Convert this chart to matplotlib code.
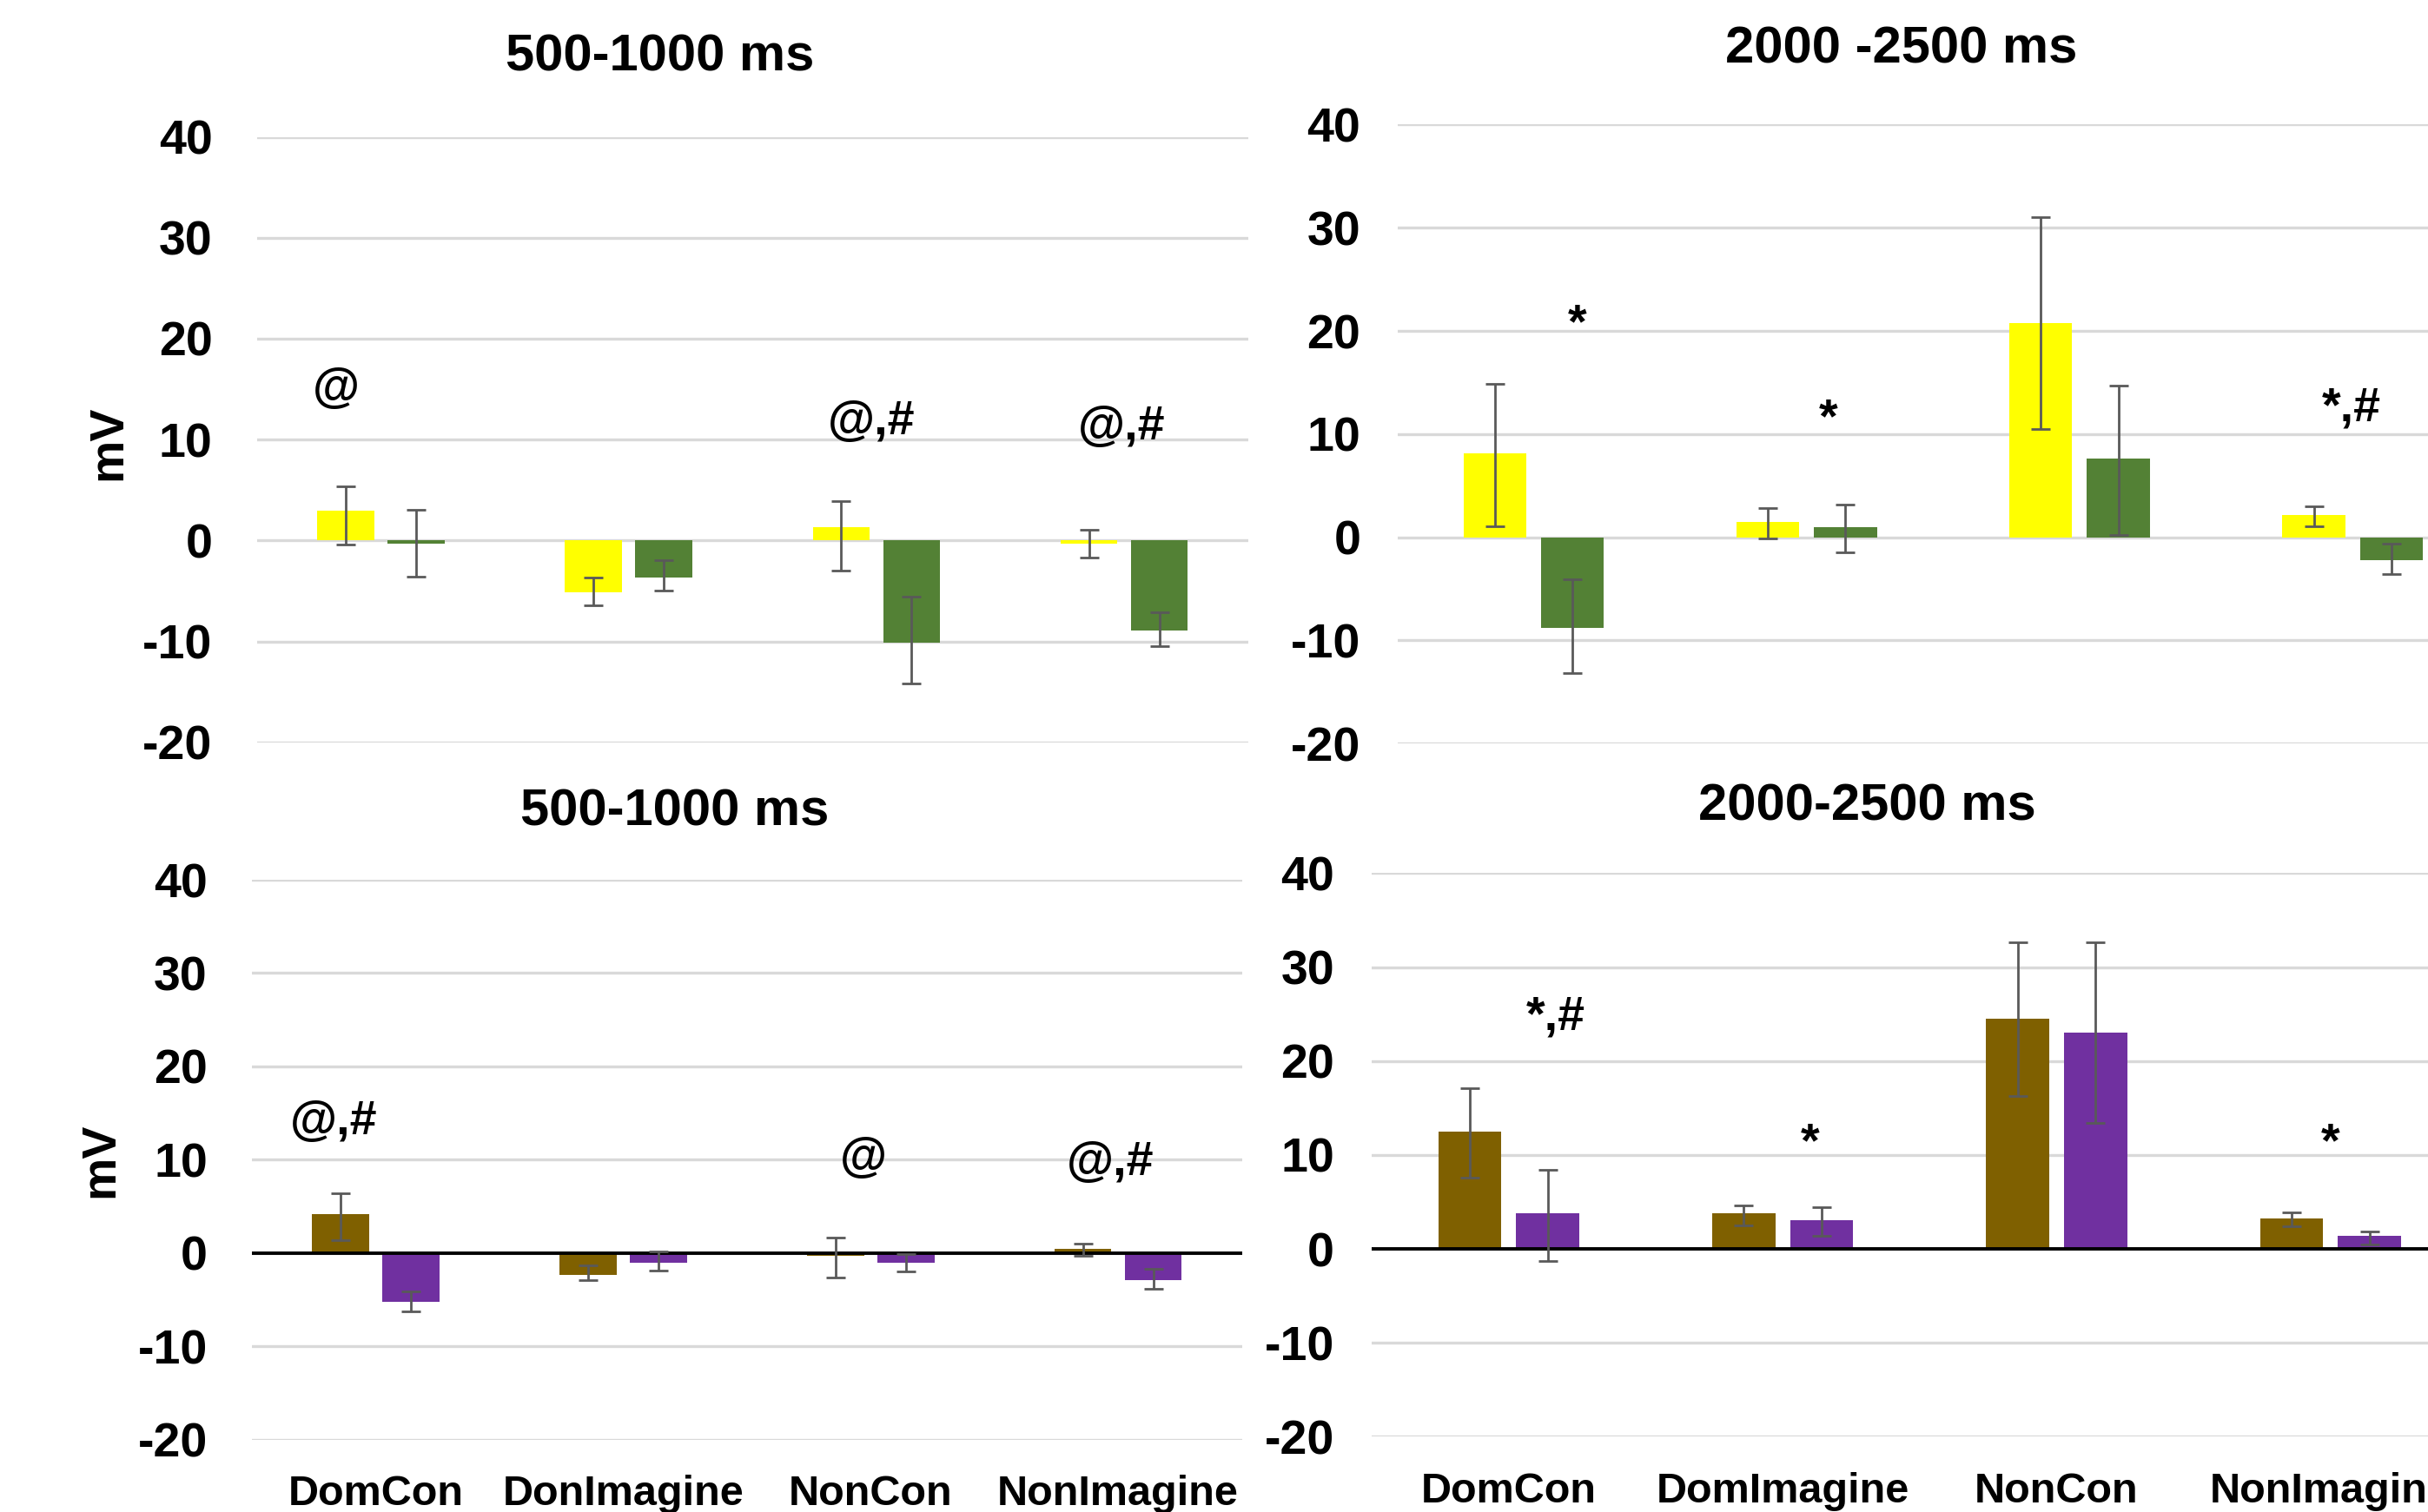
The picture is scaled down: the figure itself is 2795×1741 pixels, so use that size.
import matplotlib
matplotlib.use("Agg")
import matplotlib.pyplot as plt
import numpy as np
from matplotlib import font_manager

# ---------------- data ----------------
categories_bottom_left = ["DomCon", "DonImagine", "NonCon", "NonImagine"]
categories_bottom_right = ["DomCon", "DomImagine", "NonCon", "NonImagine"]
yticks = [-20, -10, 0, 10, 20, 30, 40]

# top-left: 500-1000 ms (yellow / green)
tl_yellow = [3.0, -5.1, 1.3, -0.3]
tl_yellow_lo = [3.4, 1.36, 4.3, 1.38]
tl_yellow_hi = [2.4, 1.4, 2.6, 1.34]
tl_green = [-0.3, -3.7, -10.1, -8.9]
tl_green_lo = [3.3, 1.23, 4.1, 1.6]
tl_green_hi = [3.36, 1.73, 4.53, 1.75]
tl_notes = ["@", "", "@,#", "@,#"]
tl_note_dx = [-0.18, 0, -0.02, -0.01]
tl_note_y = [15.0, 0, 11.7, 11.2]

# top-right: 2000-2500 ms (yellow / green)
tr_yellow = [8.1, 1.45, 20.8, 2.13]
tr_yellow_lo = [7.04, 1.6, 10.3, 1.07]
tr_yellow_hi = [6.8, 1.4, 10.2, 0.91]
tr_green = [-8.8, 0.97, 7.6, -2.2]
tr_green_lo = [4.4, 2.42, 7.4, 1.33]
tr_green_hi = [4.7, 2.22, 7.1, 1.57]
tr_notes = ["*", "*", "", "*,#"]
tr_note_dx = [0.16, 0.08, 0, -0.005]
tr_note_y = [20.6, 11.4, 0, 12.5]

# bottom-left: 500-1000 ms (brown / purple)
bl_brown = [4.14, -2.35, -0.3, 0.46]
bl_brown_lo = [2.76, 0.56, 2.3, 0.72]
bl_brown_hi = [2.3, 1.02, 1.99, 0.56]
bl_purple = [-5.26, -1.07, -1.07, -2.91]
bl_purple_lo = [1.03, 0.82, 0.93, 0.97]
bl_purple_hi = [1.12, 1.27, 0.97, 1.17]
bl_notes = ["@,#", "", "@", "@,#"]
bl_note_dx = [-0.17, 0, -0.03, -0.03]
bl_note_y = [14.0, 0, 10.1, 9.7]

# bottom-right: 2000-2500 ms (brown / purple)
br_brown = [12.49, 3.76, 24.47, 3.25]
br_brown_lo = [4.93, 1.27, 8.17, 0.86]
br_brown_hi = [4.61, 0.86, 8.13, 0.61]
br_purple = [3.76, 3.05, 23.05, 1.42]
br_purple_lo = [5.08, 1.68, 9.6, 0.96]
br_purple_hi = [4.62, 1.37, 9.55, 0.46]
br_notes = ["*,#", "*", "", "*"]
br_note_dx = [0.17, 0.1, 0, 0.0]
br_note_y = [24.6, 11.2, 0, 11.2]

titles = ["500-1000 ms", "2000 -2500 ms", "500-1000 ms", "2000-2500 ms"]

# ---------------- style ----------------
YELLOW = "#FFFF00"
GREEN = "#538135"
BROWN = "#7F6000"
PURPLE = "#7030A0"
GRID = "#D9D9D9"
ERR = "#595959"

names = {f.name for f in font_manager.fontManager.ttflist}
FONT = ["Liberation Sans", "DejaVu Sans"]
NARROW = ["Liberation Sans Narrow", "Liberation Sans", "DejaVu Sans"] if "Liberation Sans Narrow" in names else FONT
plt.rcParams["font.family"] = FONT
plt.rcParams["font.weight"] = "bold"
plt.rcParams["axes.unicode_minus"] = False

W, H = 1568.0, 977.0


def rect(l, t, r, b):
    return [l / W, 1 - b / H, (r - l) / W, (b - t) / H]


fig = plt.figure(figsize=(27.95, 17.41), dpi=100)

BW = 0.23
OFF = 0.142


def panel(r, a, a_lo, a_hi, ca, b, b_lo, b_hi, cb, notes, ndx, ny,
          pad, xlabels=None, zero_black=False):
    ax = fig.add_axes(rect(*r))
    x = np.arange(4)
    ax.set_xlim(-0.5, 3.5)
    ax.set_ylim(-20, 40)
    ax.set_yticks(yticks)
    ax.set_yticklabels([str(v) for v in yticks])
    for yv in yticks:
        ax.axhline(yv, color=GRID, lw=2.4, zorder=0)
    if zero_black:
        ax.axhline(0, color="black", lw=2.8, zorder=2)
    ax.bar(x - OFF, a, BW, color=ca, zorder=1)
    ax.bar(x + OFF, b, BW, color=cb, zorder=1)
    ax.errorbar(x - OFF, a, yerr=[a_lo, a_hi], fmt="none", ecolor=ERR,
                elinewidth=2.0, capsize=8, capthick=2.0, zorder=3)
    ax.errorbar(x + OFF, b, yerr=[b_lo, b_hi], fmt="none", ecolor=ERR,
                elinewidth=2.0, capsize=8, capthick=2.0, zorder=3)
    for i, t in enumerate(notes):
        if t:
            ax.text(i + ndx[i], ny[i], t, ha="center", va="center",
                    fontsize=40, fontweight="bold", zorder=4)
    for s in ax.spines.values():
        s.set_visible(False)
    ax.tick_params(axis="y", length=0, pad=pad, labelsize=40)
    if xlabels is not None:
        ax.set_xticks(x)
        ax.set_xticklabels(xlabels, fontsize=35, fontweight="bold",
                           family=NARROW)
        ax.tick_params(axis="x", length=0, pad=29)
    else:
        ax.set_xticks([])
    for lab in ax.get_yticklabels():
        lab.set_fontweight("bold")
    ax.patch.set_alpha(0)
    return ax


panel((166, 88.4, 806, 479.7), tl_yellow, tl_yellow_lo, tl_yellow_hi, YELLOW,
      tl_green, tl_green_lo, tl_green_hi, GREEN, tl_notes, tl_note_dx, tl_note_y,
      pad=37)
panel((902.4, 80.5, 902.4 + 705, 480.5), tr_yellow, tr_yellow_lo, tr_yellow_hi, YELLOW,
      tr_green, tr_green_lo, tr_green_hi, GREEN, tr_notes, tr_note_dx, tr_note_y,
      pad=30.5)
panel((162.8, 568.5, 162.8 + 639.2, 930.2), bl_brown, bl_brown_lo, bl_brown_hi, BROWN,
      bl_purple, bl_purple_lo, bl_purple_hi, PURPLE, bl_notes, bl_note_dx, bl_note_y,
      pad=37, xlabels=categories_bottom_left, zero_black=True)
panel((885.9, 564.2, 885.9 + 707.6, 928.4), br_brown, br_brown_lo, br_brown_hi, BROWN,
      br_purple, br_purple_lo, br_purple_hi, PURPLE, br_notes, br_note_dx, br_note_y,
      pad=31, xlabels=categories_bottom_right, zero_black=True)

# titles
title_pos = [(426, 37), (1228, 32), (436, 524.5), (1206, 521.4)]
for t, (tx, ty) in zip(titles, title_pos):
    fig.text(tx / W, 1 - ty / H, t, ha="center", va="center", fontsize=43,
             fontweight="bold")

# y-axis labels
fig.text(70 / W, 1 - 286 / H, "mV", rotation=90, ha="center", va="center",
         fontsize=40, fontweight="bold")
fig.text(65 / W, 1 - 749.5 / H, "mV", rotation=90, ha="center", va="center",
         fontsize=40, fontweight="bold")

fig.savefig("out.png", dpi=100, facecolor="white")
